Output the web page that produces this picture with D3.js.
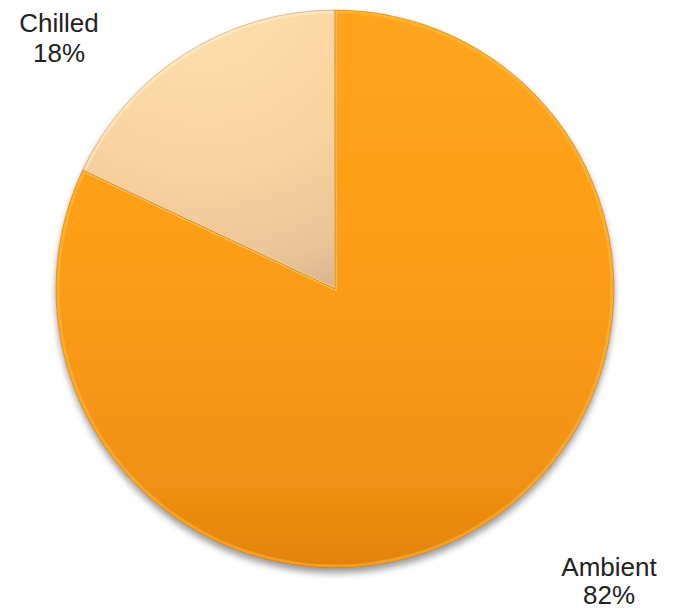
<!DOCTYPE html>
<html><head><meta charset="utf-8">
<script src="https://cdn.jsdelivr.net/npm/d3@7"></script>
<style>body{margin:0;background:#fff}svg{display:block}</style>
</head><body>
<script>
const categories = ["Chilled", "Ambient"];
const values = [18, 82];
const labels = ["18%", "82%"];

const W = 676, H = 611, cx = 335, cy = 289, R = 279;
const svg = d3.select("body").append("svg").attr("width", W).attr("height", H);
const defs = svg.append("defs");

const gA = defs.append("linearGradient").attr("id","gA").attr("gradientUnits","userSpaceOnUse")
  .attr("x1",0).attr("y1",-R).attr("x2",0).attr("y2",R);
gA.append("stop").attr("offset",0).attr("stop-color","#ffa51d");
gA.append("stop").attr("offset",0.5).attr("stop-color","#fb9c16");
gA.append("stop").attr("offset",0.85).attr("stop-color","#f09012");
gA.append("stop").attr("offset",1).attr("stop-color","#e3830e");

const gC = defs.append("radialGradient").attr("id","gC").attr("gradientUnits","userSpaceOnUse")
  .attr("cx",-130).attr("cy",-300).attr("r",330);
gC.append("stop").attr("offset",0).attr("stop-color","#fee2ae");
gC.append("stop").attr("offset",0.55).attr("stop-color","#f9d3a0");
gC.append("stop").attr("offset",0.85).attr("stop-color","#eac398");
gC.append("stop").attr("offset",1).attr("stop-color","#d5b28c");

const sh = defs.append("filter").attr("id","sh").attr("x","-10%").attr("y","-10%").attr("width","120%").attr("height","125%");
sh.append("feGaussianBlur").attr("in","SourceAlpha").attr("stdDeviation",3.5);
sh.append("feOffset").attr("dx",0).attr("dy",5).attr("result","b");
sh.append("feComponentTransfer").append("feFuncA").attr("type","linear").attr("slope",0.4);
const m = sh.append("feMerge"); m.append("feMergeNode"); m.append("feMergeNode").attr("in","SourceGraphic");

const a0 = -values[0] / d3.sum(values) * 2 * Math.PI;
const pie = d3.pie().sort(null).value(d => d).startAngle(a0).endAngle(a0 + 2 * Math.PI);
const arcs = pie(values);
const arc = d3.arc().innerRadius(0).outerRadius(R);

const g = svg.append("g").attr("transform", `translate(${cx},${cy})`);
const pies = g.append("g").attr("filter", "url(#sh)");
pies.selectAll("path").data(arcs).join("path")
  .attr("d", arc)
  .attr("fill", (d, i) => i === 0 ? "url(#gC)" : "url(#gA)");

g.selectAll("path.edge").data(arcs).join("path").attr("class", "edge")
  .attr("d", d3.arc().innerRadius(0).outerRadius(R - 2))
  .attr("fill", "none")
  .attr("stroke", (d, i) => i === 0 ? "#fff2d6" : "#ffc04a")
  .attr("stroke-width", 3).attr("stroke-opacity", 0.45);
g.selectAll("path.outline").data(arcs).join("path").attr("class", "outline")
  .attr("d", arc).attr("fill", "none")
  .attr("stroke", (d, i) => i === 0 ? "#b8946c" : "#c87610")
  .attr("stroke-width", 1).attr("stroke-opacity", 0.5);

const txt = svg.append("g").attr("font-family", "Liberation Sans, Arial, sans-serif")
  .attr("font-size", 26).attr("fill", "#222").attr("text-anchor", "middle");
const pos = [[59, 32, 62], [609, 576, 604]];
categories.forEach((c, i) => {
  txt.append("text").attr("x", pos[i][0]).attr("y", pos[i][1]).text(c);
  txt.append("text").attr("x", pos[i][0]).attr("y", pos[i][2]).text(labels[i]);
});
</script>
</body></html>
